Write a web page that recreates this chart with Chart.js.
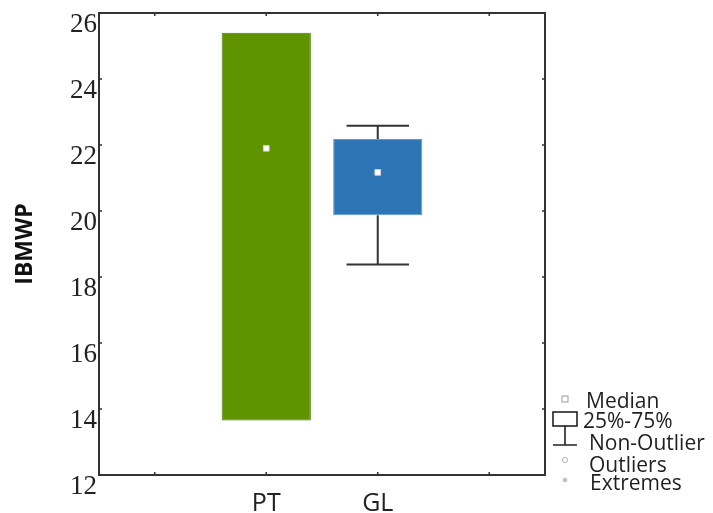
<!DOCTYPE html>
<html>
<head>
<meta charset="utf-8">
<script src="https://cdn.jsdelivr.net/npm/chart.js@4/dist/chart.umd.min.js"></script>
<style>
  html, body { margin: 0; padding: 0; background: #ffffff; }
  canvas { display: block; }
</style>
</head>
<body>
<canvas id="chart" width="713" height="513"></canvas>
<script>
// Category slots along the x axis (outer slots are empty padding slots)
const categories = ['', 'PT', 'GL', ''];
// Box statistics per category
const q1 = [null, 13.65, 19.87, null];
const q3 = [null, 25.4, 22.18, null];
const medians = [null, 21.9, 21.17, null];
const whiskerLow = [null, 13.65, 18.38, null];
const whiskerHigh = [null, 25.4, 22.58, null];
// Y axis range and tick step
const yMin = 12;
const yMax = 26;
const yStep = 2;

const boxFill = [null, '#5f9400', '#2e75b6', null];
const boxEdge = [null, '#4a7a00', '#5b9bd5', null];

const boxes = categories.map((c, i) => (q1[i] == null ? null : [q1[i], q3[i]]));

// Whiskers with caps, drawn behind the boxes
const whiskerPlugin = {
  id: 'whiskers',
  beforeDatasetsDraw(chart) {
    const { ctx, scales: { x, y } } = chart;
    const meta = chart.getDatasetMeta(0);
    ctx.save();
    ctx.strokeStyle = '#333333';
    ctx.lineWidth = 2;
    categories.forEach((c, i) => {
      if (q1[i] == null) return;
      const bar = meta.data[i];
      const cx = x.getPixelForValue(i);
      const capHalf = bar.width * 0.35;
      const segs = [[whiskerLow[i], q1[i]], [whiskerHigh[i], q3[i]]];
      segs.forEach(([w, edge]) => {
        if (w === edge) return;
        const wy = y.getPixelForValue(w);
        const ey = y.getPixelForValue(edge);
        ctx.beginPath();
        ctx.moveTo(cx, wy);
        ctx.lineTo(cx, ey);
        ctx.moveTo(cx - capHalf, wy);
        ctx.lineTo(cx + capHalf, wy);
        ctx.stroke();
      });
    });
    ctx.restore();
  }
};

// Plot frame with small inward tick marks on all four sides
const framePlugin = {
  id: 'frame',
  afterDraw(chart) {
    const { ctx, chartArea: a, scales: { x, y } } = chart;
    ctx.save();
    ctx.strokeStyle = '#333333';
    ctx.lineWidth = 2;
    ctx.strokeRect(a.left, a.top, a.right - a.left, a.bottom - a.top);
    ctx.lineWidth = 1.5;
    const t = 3;
    ctx.beginPath();
    y.ticks.forEach((tk, i) => {
      const py = y.getPixelForTick(i);
      if (Math.abs(py - a.top) < 2 || Math.abs(py - a.bottom) < 2) return;
      ctx.moveTo(a.left, py); ctx.lineTo(a.left + t, py);
      ctx.moveTo(a.right, py); ctx.lineTo(a.right - t, py);
    });
    x.ticks.forEach((tk, i) => {
      const px = x.getPixelForTick(i);
      ctx.moveTo(px, a.bottom); ctx.lineTo(px, a.bottom - t);
      ctx.moveTo(px, a.top); ctx.lineTo(px, a.top + t);
    });
    ctx.stroke();
    ctx.restore();
  }
};

// Key explaining the box plot symbols, placed right of the plot
const keyPlugin = {
  id: 'boxKey',
  afterDraw(chart) {
    const { ctx } = chart;
    const gx = 565;
    ctx.save();
    // median symbol
    ctx.fillStyle = '#ffffff';
    ctx.strokeStyle = '#9a9a9a';
    ctx.lineWidth = 1;
    ctx.fillRect(gx - 3, 396, 6, 6);
    ctx.strokeRect(gx - 3, 396, 6, 6);
    // 25%-75% box and non-outlier whisker
    ctx.strokeStyle = '#222222';
    ctx.lineWidth = 1.6;
    ctx.strokeRect(553, 412, 24, 14);
    ctx.beginPath();
    ctx.moveTo(gx, 426); ctx.lineTo(gx, 445);
    ctx.moveTo(553, 445); ctx.lineTo(577, 445);
    ctx.stroke();
    // outlier circle
    ctx.strokeStyle = '#b0b0b0';
    ctx.lineWidth = 1;
    ctx.beginPath();
    ctx.arc(gx, 460, 2.5, 0, Math.PI * 2);
    ctx.stroke();
    // extreme asterisk
    ctx.beginPath();
    for (let k = 0; k < 4; k++) {
      const ang = k * Math.PI / 4;
      ctx.moveTo(gx - 2.5 * Math.cos(ang), 480 - 2.5 * Math.sin(ang));
      ctx.lineTo(gx + 2.5 * Math.cos(ang), 480 + 2.5 * Math.sin(ang));
    }
    ctx.stroke();
    // labels
    ctx.fillStyle = '#1f1f1f';
    ctx.font = '21px "Open Sans"';
    ctx.textAlign = 'left';
    ctx.textBaseline = 'alphabetic';
    ctx.fillText('Median', 586, 408);
    ctx.fillText('25%-75%', 583, 428);
    ctx.fillText('Non-Outlier', 589, 450);
    ctx.fillText('Outliers', 589, 472);
    ctx.fillText('Extremes', 590, 490);
    ctx.restore();
  }
};

new Chart(document.getElementById('chart'), {
  type: 'bar',
  data: {
    labels: categories,
    datasets: [
      {
        label: 'Box',
        data: boxes,
        backgroundColor: boxFill,
        borderColor: boxEdge,
        borderWidth: 1,
        borderSkipped: false,
        categoryPercentage: 1,
        barPercentage: 0.8,
        order: 2
      },
      {
        label: 'Median',
        type: 'line',
        data: medians,
        showLine: false,
        pointStyle: 'rect',
        pointRadius: 4,
        pointHoverRadius: 4,
        pointBackgroundColor: '#ffffff',
        pointBorderColor: '#d0d0d0',
        pointBorderWidth: 1,
        order: 1
      }
    ]
  },
  options: {
    responsive: false,
    animation: false,
    devicePixelRatio: 1,
    layout: { padding: { top: 13, right: 168, bottom: 0, left: 0 } },
    plugins: {
      legend: { display: false },
      tooltip: { enabled: false }
    },
    scales: {
      x: {
        type: 'category',
        offset: true,
        grid: { display: false, drawTicks: false },
        border: { display: false },
        ticks: {
          color: '#222222',
          font: { family: '"Open Sans"', size: 25 },
          padding: 14,
          maxRotation: 0,
          autoSkip: false
        },
        afterFit(scale) { scale.height = 38; }
      },
      y: {
        min: yMin,
        max: yMax,
        grid: { display: false, drawTicks: false },
        border: { display: false },
        ticks: {
          stepSize: yStep,
          color: '#222222',
          font: { family: '"Liberation Serif"', size: 27 },
          padding: 2,
          labelOffset: 12
        },
        title: {
          display: true,
          text: 'IBMWP',
          color: '#111111',
          font: { family: '"Open Sans"', size: 23, weight: 'bold' },
          padding: { top: 12, bottom: 0 }
        },
        afterFit(scale) {
          scale.width = 99;
          scale.paddingTop = 0;
          scale.paddingBottom = 0;
        }
      }
    }
  },
  plugins: [whiskerPlugin, framePlugin, keyPlugin]
});
</script>
</body>
</html>
